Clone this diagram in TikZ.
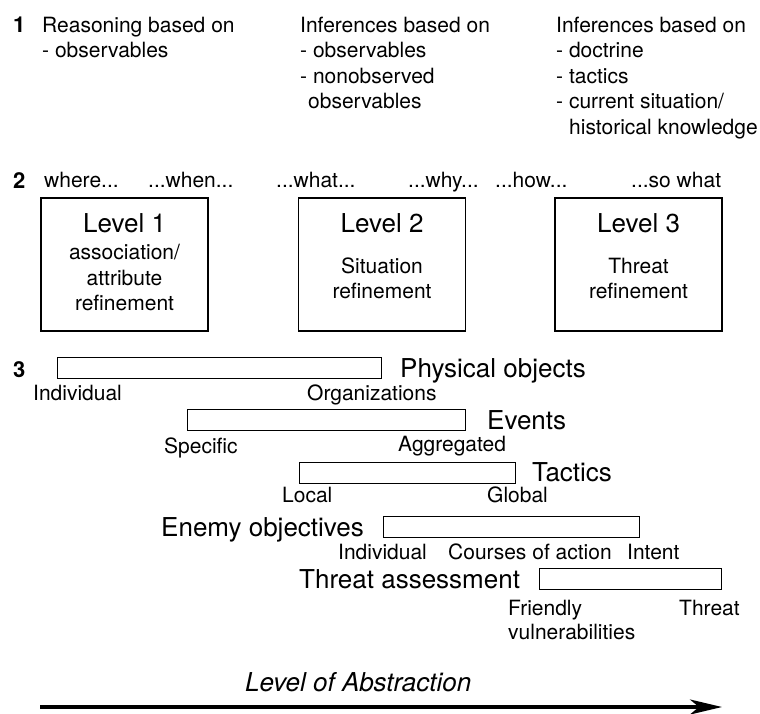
\documentclass[tikz,border=0pt]{standalone}
\usepackage{fontspec}
\setmainfont{TeX Gyre Heros}
\usetikzlibrary{arrows.meta}

\tikzset{
  txt/.style={inner sep=0pt, anchor=base west, font=\fontsize{21}{25}\selectfont},
  ctxt/.style={inner sep=0pt, anchor=base, font=\fontsize{21}{25}\selectfont},
  big/.style={inner sep=0pt, anchor=base west, font=\fontsize{26}{30}\selectfont},
  cbig/.style={inner sep=0pt, anchor=base, font=\fontsize{26}{30}\selectfont},
  num/.style={inner sep=0pt, anchor=base west, font=\fontsize{22}{26}\selectfont\bfseries},
  levelbox/.style={draw, line width=1.3pt, minimum width=167pt, minimum height=133pt, inner sep=0pt},
  bar/.style={draw, line width=1pt, inner sep=0pt, minimum height=21pt, anchor=north west},
  axis/.style={line width=3.5pt, -{Stealth[length=32pt,width=15pt,inset=9pt]}},
}

\begin{document}
\begin{tikzpicture}[x=1pt,y=-1pt]
\useasboundingbox (0,0) rectangle (760,713);

% ---- row 1: kinds of reasoning
\node[num] (n1) at (13,32) {1};
\node[txt] (r1a) at (42,32) {Reasoning based on};
\node[txt] (r1b) at (42,57.5) {- observables};

\node[txt] (r2a) at (300,32) {Inferences based on};
\node[txt] (r2b) at (300,57.5) {- observables};
\node[txt] (r2c) at (300,83) {- nonobserved};
\node[txt] (r2d) at (308,108.5) {observables};

\node[txt] (r3a) at (556,32) {Inferences based on};
\node[txt] (r3b) at (556,57.5) {- doctrine};
\node[txt] (r3c) at (556,83) {- tactics};
\node[txt] (r3d) at (556,108.5) {- current situation/};
\node[txt] (r3e) at (569,134) {historical knowledge};

% ---- row 2: questions and fusion levels
\node[num] (n2) at (13,188) {2};
\node[txt] (q1) at (44,187) {where...};
\node[txt] (q2) at (148,187) {...when...};
\node[txt] (q3) at (276,187) {...what...};
\node[txt] (q4) at (408,187) {...why...};
\node[txt] (q5) at (495,187) {...how...};
\node[txt] (q6) at (631,187) {...so what};

\node[levelbox] (lv1) at (124.5,264.5) {};
\node[levelbox] (lv2) at (382,264.5) {};
\node[levelbox] (lv3) at (638.5,264.5) {};

\node[cbig] (lv1t) at (124.5,232) {Level 1};
\node[ctxt] (lv1a) at (124.5,259) {association/};
\node[ctxt] (lv1b) at (124.5,285) {attribute};
\node[ctxt] (lv1c) at (124.5,310) {refinement};

\node[cbig] (lv2t) at (382,232) {Level 2};
\node[ctxt] (lv2a) at (382,273) {Situation};
\node[ctxt] (lv2b) at (382,298) {refinement};

\node[cbig] (lv3t) at (638.5,232) {Level 3};
\node[ctxt] (lv3a) at (638.5,273) {Threat};
\node[ctxt] (lv3b) at (638.5,298) {refinement};

% ---- row 3: ranges of abstraction
\node[num] (n3) at (13,377) {3};

\node[bar, minimum width=324pt] (b1) at (57,357) {};
\node[big] (b1n) at (400,377) {Physical objects};
\node[txt] (b1l) at (33,400) {Individual};
\node[txt] (b1r) at (307,400) {Organizations};

\node[bar, minimum width=278pt] (b2) at (187,409) {};
\node[big] (b2n) at (487,429) {Events};
\node[txt] (b2l) at (164,453) {Specific};
\node[txt] (b2r) at (398,451) {Aggregated};

\node[bar, minimum width=216pt] (b3) at (299,462) {};
\node[big] (b3n) at (532,481) {Tactics};
\node[txt] (b3l) at (282,502) {Local};
\node[txt] (b3r) at (487,502) {Global};

\node[bar, minimum width=256pt] (b4) at (383,516) {};
\node[big] (b4n) at (161,536) {Enemy objectives};
\node[txt] (b4l) at (338,559) {Individual};
\node[txt] (b4m) at (448,559) {Courses of action};
\node[txt] (b4r) at (627,559) {Intent};

\node[bar, minimum width=182pt] (b5) at (539,568) {};
\node[big] (b5n) at (299,588) {Threat assessment};
\node[txt] (b5l) at (508,615) {Friendly};
\node[txt] (b5l2) at (508,639) {vulnerabilities};
\node[txt] (b5r) at (679,615) {Threat};

% ---- abstraction axis
\node[big, font=\fontsize{26}{30}\selectfont\itshape] (ax) at (245,691) {Level of Abstraction};
\coordinate (a0) at (40,707);
\coordinate (a1) at (722,707);
\draw[axis] (a0) -- (a1);
\end{tikzpicture}
\end{document}
